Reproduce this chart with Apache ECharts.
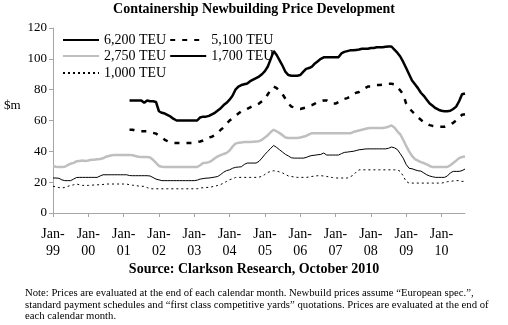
<!DOCTYPE html>
<html><head><meta charset="utf-8">
<script src="https://cdn.jsdelivr.net/npm/echarts@6/dist/echarts.min.js"></script>
<style>html,body{margin:0;padding:0;background:#fff}#c{width:508px;height:325px}</style>
</head><body><div id="c"></div>
<script>
// Category labels: monthly, Jan-99 .. Sep-10
var yearLabels = ['99','00','01','02','03','04','05','06','07','08','09','10'];
var monthNames = ['Jan','Feb','Mar','Apr','May','Jun','Jul','Aug','Sep','Oct','Nov','Dec'];
var categories = [];
for (var y = 0; y < yearLabels.length; y++) {
  for (var m = 0; m < 12; m++) {
    if (y === yearLabels.length - 1 && m > 8) break;
    categories.push(monthNames[m] + '-' + yearLabels[y]);
  }
}
var seriesNames = ['6,200 TEU', '5,100 TEU', '2,750 TEU', '1,700 TEU', '1,000 TEU'];
var yTicks = [0, 20, 40, 60, 80, 100, 120];

var lead = []; for (var i = 0; i < 26; i++) lead.push(null);

var teu6200 = lead.concat([
  73,73,73,73,73, 71.5,73,72.5,72.5,72,
  66,65,64.5,63.5,62.5,61,60, 60,60,60,60,60,60,60,
  62,62.5,62.5,63,64,65,66.5,68,70,71.5,
  73.5,76,80,82,83,83.5,84,85.5,86.5,87.5,
  88.5,90,92,95,100,105,102.5,99,95.5,91.5,
  89.5,89,89,89,89.5,91.5,93.5,94,95,97,
  98.5,100,101,101,101,101,101,101,103.5,104.5,
  105,105.5,105.5,105.8,106,106.5,106.5,106.5,107,107,
  107.5,107.5,107.5,107.8,108,108,106,104,101.5,98,
  94,90,86,83.5,81,78,76,73.5,71,69.5,
  68,67,66.3,66,66,66.3,67.5,69,72.5,77,77.5
]);
var teu5100 = lead.concat([
  54,54,53.5,53.5,53,53,53,52.5,52,51.5,
  50,49,47.5,46.5,46,45.5,45.4,45.4,45.4,45.4,
  45.4,45.4,45.5,46,46.4,47,48,49,49.5,50.5,
  52,54,55.5,58,60,61.5,63,64.5,66,66.5,
  67.5,68.5,69.5,70,71,72.5,74,77,80,82,
  81,79,77,74,71,69,68.5,68,67.5,68,
  68.5,69.5,70,71,72,72.5,73,73,72,71,
  71,72,73.5,74,74.5,75.5,77,78,78.5,80,
  81,82,82,82.5,83,83,83.2,83.5,83.8,83.8,
  83.5,81.5,79.5,77,71,68,66,64,62,60.5,
  58.5,58,57,56.5,56.2,56,56,56,56.5,57.5,
  58.5,60,62,63.7,64
]);
var teu2750 = [
  30.5,30,29.8,29.8,30,31,32,32.5,33.5,33.8,
  34,33.8,34,34.5,34.5,34.8,35,35.5,36.5,37,
  37.5,37.7,37.7,37.7,37.7,37.7,37.7,37.5,37,36.5,
  36.3,36.3,36.3,36,34.5,32.5,30.5,30,29.8,29.8,
  29.8,29.8,29.8,29.8,29.8,29.8,29.8,29.8,29.8,29.8,
  31,32.4,32.6,33,34,35.5,36.7,37.5,38.3,39,
  40.5,43,45,45.5,45.8,46,46,46,46.2,46.4,
  46.6,47.5,49,50.5,52.5,54,53,51.8,50.5,49,
  48.6,48.6,48.6,48.6,49,49.5,50,51,51.8,51.7,
  51.7,51.7,51.7,51.7,51.7,51.7,51.7,51.7,51.7,51.7,
  51.7,51.7,52.5,53,53.5,54,54.5,55,55.2,55.2,
  55.2,55.2,55.2,55.5,56,56.8,55.5,53,51,47.5,
  43.5,40,37,35,34,33,32.4,31.5,30.5,29.8,
  29.8,29.8,29.8,29.8,29.8,31,32.4,34,35.6,36.3,36.7
];
var teu1700 = [
  22.7,22.7,22.5,21.5,21,21,21,22,23,23.1,
  23.1,23.1,23.1,23.1,23.1,23.1,24,24.8,24.8,24.8,
  24.8,24.8,24.8,24.8,24.8,24.8,24.3,24.2,24.2,24.2,
  24.2,24.2,24.2,24,23,22,21.5,21,21,21,
  21,21,21,21,21,21,21,21,21,21.3,
  22,22.3,22.6,22.7,23,23.3,23.7,25,26.5,27.5,
  28,29,29.6,29.8,30,31.5,32.4,32.4,32.4,32.4,
  33.5,35.6,38,40,42,43.8,42.5,41,39.5,38,
  37,35.8,35.6,35.6,35.6,35.6,36,36.8,37.3,37.5,
  37.8,38,38.9,37.6,37.6,37.6,37.6,37.6,38.5,39.3,
  39.5,39.8,40,40.5,41,41.2,41.5,41.6,41.6,41.6,
  41.6,41.6,41.6,41.6,42,42.8,42.3,41.2,38.5,35.6,
  31.5,29,28.7,28,27.4,27.2,26,24.8,24,23.5,
  23.1,23.1,23.1,23.1,24,26,27,27,27,27.5,28.5
];
var teu1000 = [
  17.3,17,16.5,16.2,16.6,17.3,17.8,18.3,18.8,18.3,
  17.9,17.9,17.9,18,18.2,18.3,18.3,18.5,18.8,18.8,
  18.8,18.8,18.8,18.8,18.8,18.8,18.3,18,17.9,17.5,
  17.3,17.3,16.5,15.7,15.7,15.7,15.7,15.7,15.7,15.7,
  15.7,15.7,15.7,15.7,15.7,15.7,15.7,15.7,15.7,15.7,
  16.2,16.4,16.6,16.6,17,17.3,17.9,18.5,19.4,20.5,
  21.6,22.2,23,23.1,23.1,23.1,23.1,23.1,23.1,23.1,
  23.3,23.7,25,26.3,27,27.4,27.2,26.6,26,25,
  24,23.7,23.3,23.1,23.1,23.1,23.1,23.3,23.7,24,
  24.2,24.2,24,23.7,23.3,23,22.7,22.7,22.7,22.7,
  22.7,23.5,24.5,26.5,28,28,28,28,28,28,
  28,28,28,28,28,28,28,28,27,24,
  20.5,19.4,19.4,19.4,19.4,19.4,19.4,19.4,19.4,19.4,
  19.4,19.4,19.4,19.8,20.3,20.5,20.8,21,21,20.5,20.5
];

var FONT = '"Liberation Serif", "Times New Roman", serif';
var chart = echarts.init(document.getElementById('c'), null, {renderer: 'canvas'});

function lineSeries(name, data, color, width, type) {
  return {
    name: name, type: 'line', data: data, symbol: 'none', connectNulls: false,
    animation: false,
    lineStyle: {color: color, width: width, type: type},
    itemStyle: {color: color}
  };
}
var legendBase = {
  itemWidth: 36, itemHeight: 14, itemGap: 3, padding: 0,
  itemStyle: {opacity: 0, borderWidth: 0},
  textStyle: {fontFamily: FONT, fontSize: 14, color: '#000'},
  selectedMode: false
};
var option = {
  animation: false,
  backgroundColor: '#fff',
  title: [
    {text: 'Containership Newbuilding Price Development', left: 'center', top: 2, padding: 0,
     textStyle: {fontFamily: FONT, fontSize: 14, fontWeight: 'bold', color: '#000'}},
    {text: 'Source: Clarkson Research, October 2010', left: 'center', top: 262, padding: 0,
     textStyle: {fontFamily: FONT, fontSize: 14, fontWeight: 'bold', color: '#000'}},
    {text: 'Note: Prices are evaluated at the end of each calendar month. Newbuild prices assume \u201cEuropean spec.\u201d,\nstandard payment schedules and \u201cfirst class competitive yards\u201d quotations. Prices are evaluated at the end of\neach calendar month.',
     left: 25, top: 287, padding: 0,
     textStyle: {fontFamily: FONT, fontSize: 10.7, fontWeight: 'normal', color: '#000', lineHeight: 11.8}}
  ],
  graphic: [{type: 'text', left: 4, top: 99,
    style: {text: '$m', font: '13px ' + FONT, fill: '#000'}}],
  legend: [
    Object.assign({data: [seriesNames[0], seriesNames[1]], left: 62, top: 33}, legendBase),
    Object.assign({data: [seriesNames[2], seriesNames[3]], left: 62, top: 49}, legendBase),
    Object.assign({data: [seriesNames[4]], left: 62, top: 66}, legendBase)
  ],
  grid: {left: 53, right: 43, top: 28, bottom: 112, containLabel: false},
  xAxis: {
    type: 'category', data: categories, boundaryGap: false,
    axisLine: {lineStyle: {color: '#a6a6a6', width: 1}},
    axisTick: {show: true, length: 4, interval: function (i) { return i % 12 === 0; },
      lineStyle: {color: '#a6a6a6'}},
    axisLabel: {interval: function (i) { return i % 12 === 0; },
      formatter: function (v) { var p = v.split('-'); return p[0] + '-\n' + p[1]; },
      fontFamily: FONT, fontSize: 14, color: '#000', lineHeight: 17, margin: 13},
    splitLine: {show: false}
  },
  yAxis: {
    type: 'value', min: yTicks[0], max: yTicks[yTicks.length - 1], interval: 20,
    axisLine: {show: true, lineStyle: {color: '#a6a6a6', width: 1}},
    axisTick: {show: true, length: 4, lineStyle: {color: '#a6a6a6'}},
    axisLabel: {fontFamily: FONT, fontSize: 13, color: '#000', margin: 6},
    splitLine: {show: false}
  },
  series: [
    lineSeries(seriesNames[0], teu6200, '#000', 2.5, 'solid'),
    lineSeries(seriesNames[1], teu5100, '#000', 2.5, [5, 7]),
    lineSeries(seriesNames[2], teu2750, '#bfbfbf', 2.5, 'solid'),
    lineSeries(seriesNames[3], teu1700, '#000', 1, 'solid'),
    lineSeries(seriesNames[4], teu1000, '#000', 1, [2, 3])
  ]
};
chart.setOption(option);
</script>
</body></html>
